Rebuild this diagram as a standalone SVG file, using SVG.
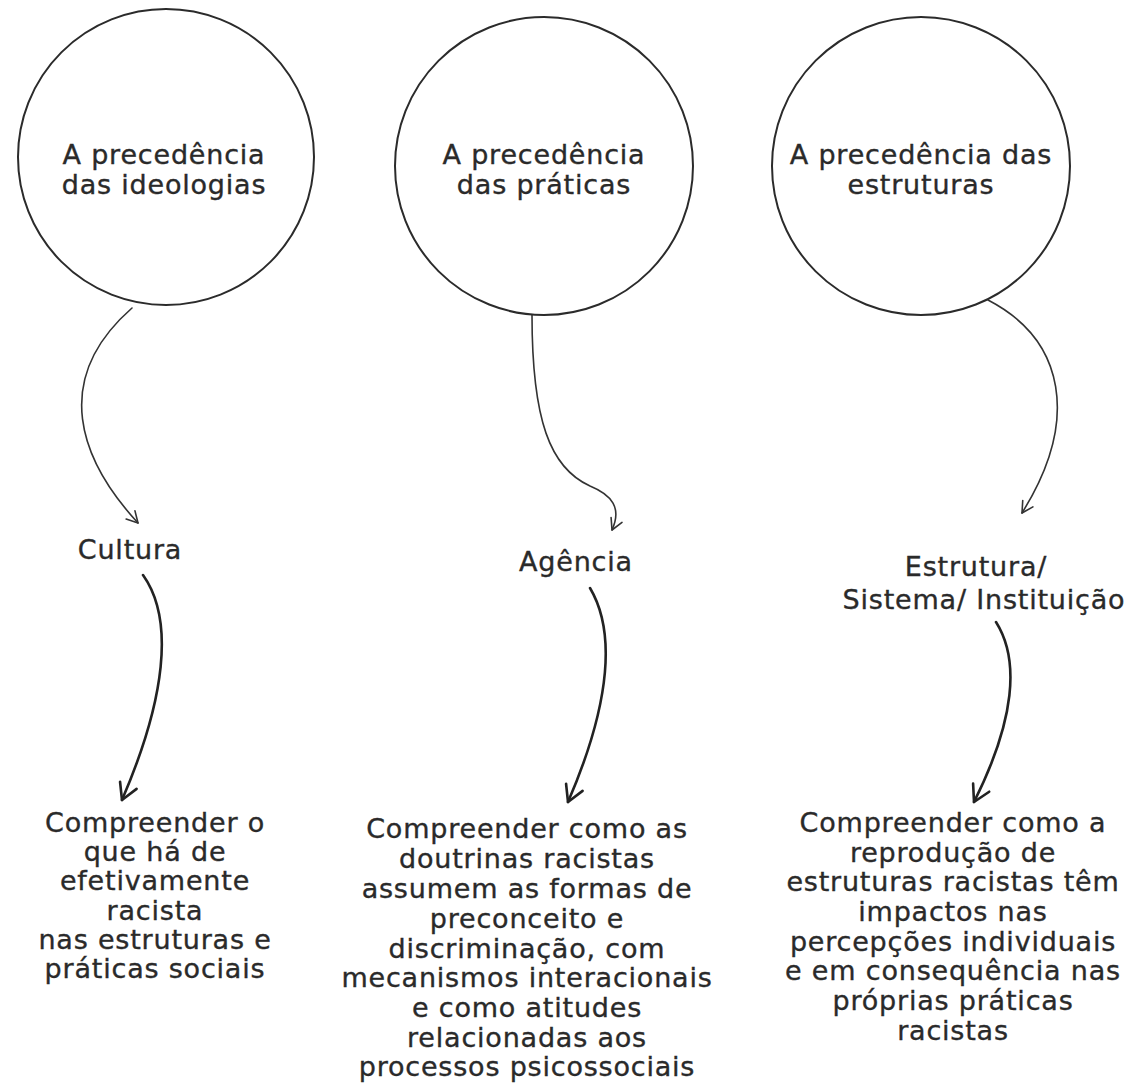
<svg xmlns="http://www.w3.org/2000/svg" width="1145" height="1083" viewBox="0 0 1145 1083">
<style>
  .bg { fill: #ffffff; }
  .circ { fill: #ffffff; stroke: #2b2b2b; stroke-width: 2; }
  .t { font-family: "DejaVu Sans", "Liberation Sans", sans-serif; font-size: 27px; fill: #2a2a2a; stroke: #2a2a2a; stroke-width: 0.35; text-anchor: middle; letter-spacing: 0.8px; }
  .thin { fill: none; stroke: #333333; stroke-width: 1.6; stroke-linecap: round; }
  .thick { fill: none; stroke: #222222; stroke-width: 2.6; stroke-linecap: round; }
</style>
<defs>
  <marker id="headSmall" markerUnits="userSpaceOnUse" markerWidth="16" markerHeight="16" viewBox="0 0 16 16" refX="14" refY="8" orient="auto">
    <path d="M3,2 L14,8 L3,14" fill="none" stroke="#333333" stroke-width="1.6" stroke-linecap="round" stroke-linejoin="round"/>
  </marker>
  <marker id="headBig" markerUnits="userSpaceOnUse" markerWidth="24" markerHeight="24" viewBox="0 0 24 24" refX="21" refY="12" orient="auto">
    <path d="M5,3 L21,12 L5,21" fill="none" stroke="#222222" stroke-width="2.6" stroke-linecap="round" stroke-linejoin="round"/>
  </marker>
</defs>
<rect class="bg" x="0" y="0" width="1145" height="1083"/>

<g id="connectors">
  <path class="thin" d="M132,308 C 50,380 80,460 138,523" marker-end="url(#headSmall)"/>
  <path class="thick" d="M143,575 C 175,620 165,700 122,800" marker-end="url(#headBig)"/>
  <path class="thin" d="M532,315 C 532,420 550,468 590,486 C 612,495 622,508 612,530" marker-end="url(#headSmall)"/>
  <path class="thick" d="M590,588 C 615,630 612,700 568,802" marker-end="url(#headBig)"/>
  <path class="thin" d="M988,300 C 1065,340 1080,420 1022,513" marker-end="url(#headSmall)"/>
  <path class="thick" d="M996,622 C 1020,660 1015,720 974,802" marker-end="url(#headBig)"/>
</g>

<g id="node-ideologias">
  <circle class="circ" cx="166" cy="157" r="148"/>
  <text class="t" x="164" y="164">A precedência</text>
  <text class="t" x="164" y="194">das ideologias</text>
</g>
<g id="node-praticas">
  <circle class="circ" cx="544" cy="166" r="149"/>
  <text class="t" x="544" y="164">A precedência</text>
  <text class="t" x="544" y="194">das práticas</text>
</g>
<g id="node-estruturas">
  <circle class="circ" cx="921" cy="166" r="149"/>
  <text class="t" x="921" y="164">A precedência das</text>
  <text class="t" x="921" y="194">estruturas</text>
</g>

<g id="node-cultura">
  <text class="t" x="130" y="559">Cultura</text>
</g>
<g id="node-agencia">
  <text class="t" x="576" y="571">Agência</text>
</g>
<g id="node-estrutura">
  <text class="t" x="976" y="576">Estrutura/</text>
  <text class="t" x="984" y="609">Sistema/ Instituição</text>
</g>

<g id="node-compreender-1">
  <text class="t" x="155" y="832">Compreender o</text>
  <text class="t" x="155" y="861">que há de</text>
  <text class="t" x="155" y="890">efetivamente</text>
  <text class="t" x="155" y="920">racista</text>
  <text class="t" x="155" y="949">nas estruturas e</text>
  <text class="t" x="155" y="978">práticas sociais</text>
</g>
<g id="node-compreender-2">
  <text class="t" x="527" y="838">Compreender como as</text>
  <text class="t" x="527" y="868">doutrinas racistas</text>
  <text class="t" x="527" y="898">assumem as formas de</text>
  <text class="t" x="527" y="928">preconceito e</text>
  <text class="t" x="527" y="958">discriminação, com</text>
  <text class="t" x="527" y="987">mecanismos interacionais</text>
  <text class="t" x="527" y="1017">e como atitudes</text>
  <text class="t" x="527" y="1047">relacionadas aos</text>
  <text class="t" x="527" y="1076">processos psicossociais</text>
</g>
<g id="node-compreender-3">
  <text class="t" x="953" y="832">Compreender como a</text>
  <text class="t" x="953" y="862">reprodução de</text>
  <text class="t" x="953" y="891">estruturas racistas têm</text>
  <text class="t" x="953" y="921">impactos nas</text>
  <text class="t" x="953" y="951">percepções individuais</text>
  <text class="t" x="953" y="980">e em consequência nas</text>
  <text class="t" x="953" y="1010">próprias práticas</text>
  <text class="t" x="953" y="1040">racistas</text>
</g>
</svg>
